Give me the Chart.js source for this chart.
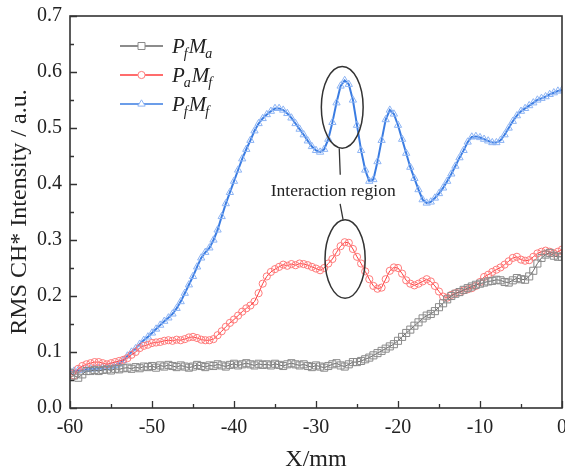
<!DOCTYPE html>
<html lang="en">
<head>
<meta charset="UTF-8">
<title>RMS CH* Intensity</title>
<style>
  html, body { margin: 0; padding: 0; background: #fff; overflow: hidden; }
  canvas { display: block; }
</style>
</head>
<body>
<canvas id="rmsChart" width="565" height="475"></canvas>
<script src="https://cdn.jsdelivr.net/npm/chart.js"></script>
<script>
// X positions (mm)
const xPos = [
  -60, -59.5, -59, -58.5, -58, -57.5, -57, -56.5, -56, -55.5,
  -55, -54.5, -54, -53.5, -53, -52.5, -52, -51.5, -51, -50.5,
  -50, -49.5, -49, -48.5, -48, -47.5, -47, -46.5, -46, -45.5,
  -45, -44.5, -44, -43.5, -43, -42.5, -42, -41.5, -41, -40.5,
  -40, -39.5, -39, -38.5, -38, -37.5, -37, -36.5, -36, -35.5,
  -35, -34.5, -34, -33.5, -33, -32.5, -32, -31.5, -31, -30.5,
  -30, -29.5, -29, -28.5, -28, -27.5, -27, -26.5, -26, -25.5,
  -25, -24.5, -24, -23.5, -23, -22.5, -22, -21.5, -21, -20.5,
  -20, -19.5, -19, -18.5, -18, -17.5, -17, -16.5, -16, -15.5,
  -15, -14.5, -14, -13.5, -13, -12.5, -12, -11.5, -11, -10.5,
  -10, -9.5, -9, -8.5, -8, -7.5, -7, -6.5, -6, -5.5,
  -5, -4.5, -4, -3.5, -3, -2.5, -2, -1.5, -1, -0.5, 0
];

// PfMa (black squares)
const pfMa = [
  0.063, 0.058, 0.054, 0.060, 0.066, 0.066, 0.068, 0.066, 0.068, 0.069,
  0.067, 0.070, 0.069, 0.071, 0.072, 0.070, 0.073, 0.071, 0.074, 0.073,
  0.075, 0.072, 0.076, 0.074, 0.077, 0.075, 0.073, 0.076, 0.074, 0.072,
  0.074, 0.077, 0.075, 0.073, 0.076, 0.075, 0.078, 0.076, 0.074, 0.077,
  0.079, 0.076, 0.078, 0.080, 0.078, 0.076, 0.079, 0.077, 0.078, 0.076,
  0.079, 0.077, 0.075, 0.078, 0.080, 0.078, 0.076, 0.078, 0.075, 0.073,
  0.076, 0.074, 0.072, 0.075, 0.078, 0.080, 0.076, 0.074, 0.078, 0.082,
  0.082, 0.084, 0.087, 0.090, 0.094, 0.098, 0.102, 0.106, 0.110, 0.114,
  0.120, 0.127, 0.134, 0.140, 0.147, 0.153, 0.160, 0.165, 0.168, 0.173,
  0.180, 0.187, 0.194, 0.200, 0.204, 0.207, 0.211, 0.214, 0.217, 0.220,
  0.222, 0.224, 0.226, 0.227, 0.229, 0.228, 0.225, 0.224, 0.228, 0.232,
  0.230, 0.229, 0.235, 0.245, 0.258, 0.268, 0.274, 0.277, 0.272, 0.270, 0.270
];

// PaMf (red circles)
const paMf = [
  0.062, 0.058, 0.070, 0.075, 0.078, 0.080, 0.082, 0.082, 0.080, 0.078,
  0.080, 0.082, 0.084, 0.086, 0.089, 0.095, 0.100, 0.107, 0.111, 0.113,
  0.116, 0.117, 0.118, 0.120, 0.121, 0.120, 0.122, 0.121, 0.123, 0.126,
  0.127, 0.125, 0.122, 0.121, 0.121, 0.123, 0.130, 0.137, 0.145, 0.152,
  0.158, 0.165, 0.172, 0.178, 0.183, 0.190, 0.205, 0.222, 0.235, 0.243,
  0.248, 0.252, 0.256, 0.254, 0.257, 0.255, 0.258, 0.257, 0.255, 0.252,
  0.249, 0.246, 0.250, 0.258, 0.266, 0.278, 0.289, 0.296, 0.295, 0.284,
  0.270, 0.258, 0.244, 0.230, 0.218, 0.213, 0.215, 0.230, 0.245, 0.251,
  0.250, 0.240, 0.228, 0.222, 0.219, 0.222, 0.226, 0.230, 0.226, 0.218,
  0.208, 0.199, 0.197, 0.202, 0.205, 0.207, 0.210, 0.212, 0.214, 0.218,
  0.225, 0.234, 0.238, 0.243, 0.247, 0.251, 0.256, 0.262, 0.268, 0.270,
  0.265, 0.263, 0.264, 0.270, 0.276, 0.279, 0.281, 0.279, 0.276, 0.279, 0.283
];

// PfMf (blue triangles)
const pfMf = [
  0.065, 0.066, 0.067, 0.068, 0.069, 0.070, 0.070, 0.071, 0.072, 0.073,
  0.074, 0.076, 0.079, 0.085, 0.093, 0.100, 0.106, 0.114, 0.121, 0.127,
  0.134, 0.141, 0.148, 0.155, 0.161, 0.168, 0.178, 0.190, 0.205, 0.220,
  0.235, 0.252, 0.268, 0.278, 0.286, 0.300, 0.318, 0.342, 0.365, 0.385,
  0.405, 0.425, 0.445, 0.462, 0.478, 0.495, 0.508, 0.517, 0.524, 0.530,
  0.535, 0.535, 0.532, 0.526, 0.518, 0.508, 0.498, 0.488, 0.477, 0.467,
  0.460, 0.457, 0.462, 0.480, 0.510, 0.545, 0.575, 0.585, 0.578, 0.550,
  0.505, 0.460, 0.425, 0.405, 0.408, 0.440, 0.478, 0.515, 0.532, 0.525,
  0.505, 0.480, 0.455, 0.430, 0.410, 0.390, 0.372, 0.366, 0.368, 0.375,
  0.383, 0.393, 0.405, 0.418, 0.432, 0.447, 0.460, 0.475, 0.484, 0.485,
  0.483, 0.480, 0.477, 0.474, 0.474, 0.478, 0.488, 0.500, 0.512, 0.522,
  0.530, 0.535, 0.540, 0.545, 0.550, 0.553, 0.556, 0.560, 0.563, 0.566, 0.568
];

// annotation anchors in data units
const ellipses = [
  { x: -26.8, y: 0.537, rx: 2.55, ry: 0.073 },
  { x: -26.45, y: 0.266, rx: 2.45, ry: 0.070 }
];
const noteText = 'Interaction region';
const noteAt = { x: -27.9, y: 0.386 };

// plot frame in canvas pixels
const plotBox = { left: 70, right: 562, top: 16, bottom: 408 };

const serif = "'Liberation Serif', 'Times New Roman', serif";
Chart.defaults.font.family = serif;
Chart.defaults.color = '#222';

function toXY(ys) {
  return xPos.map((x, i) => ({ x: x, y: ys[i] }));
}

const series = [
  { key: ['f', 'a'], data: pfMa, line: '#666666', mark: '#8a8a8a', style: 'rect', r: 5, w: 1 },
  { key: ['a', 'f'], data: paMf, line: '#ff3b3b', mark: '#ff7a7a', style: 'circle', r: 3.6, w: 1 },
  { key: ['f', 'f'], data: pfMf, line: '#3a7ce2', mark: '#8db4f4', style: 'triangle', r: 4.2, w: 2 }
];

// pin the chart area to the reference frame
const pinArea = {
  id: 'pinArea',
  afterLayout(chart) {
    const a = chart.chartArea;
    const { x, y } = chart.scales;
    Object.assign(a, plotBox);
    a.width = plotBox.right - plotBox.left;
    a.height = plotBox.bottom - plotBox.top;
    x.left = plotBox.left; x.right = plotBox.right; x.width = a.width;
    x.top = plotBox.bottom; x.height = x.bottom - x.top;
    y.top = plotBox.top; y.bottom = plotBox.bottom; y.height = a.height;
    y.right = plotBox.left; y.width = y.right - y.left;
    x.configure();
    y.configure();
  }
};

// frame, inward ticks, legend and annotations
const decor = {
  id: 'decor',
  afterDatasetsDraw(chart) {
    const { ctx, chartArea: a, scales: { x, y } } = chart;
    ctx.save();

    ctx.strokeStyle = '#333';
    ctx.lineWidth = 1.6;
    ctx.strokeRect(a.left, a.top, a.right - a.left, a.bottom - a.top);

    ctx.lineWidth = 1.3;
    ctx.beginPath();
    x.ticks.forEach(t => {
      const px = Math.round(x.getPixelForValue(t.value)) + 0.5;
      const len = t.label ? 7 : 4;
      ctx.moveTo(px, a.bottom);
      ctx.lineTo(px, a.bottom - len);
    });
    y.ticks.forEach(t => {
      const py = Math.round(y.getPixelForValue(t.value)) + 0.5;
      const len = t.label ? 7 : 4;
      ctx.moveTo(a.left, py);
      ctx.lineTo(a.left + len, py);
    });
    ctx.stroke();

    // legend
    series.forEach((s, i) => {
      const ly = 46 + i * 29;
      ctx.strokeStyle = s.line;
      ctx.lineWidth = 1.6;
      ctx.beginPath();
      ctx.moveTo(120, ly);
      ctx.lineTo(163, ly);
      ctx.stroke();
      ctx.fillStyle = '#fff';
      ctx.strokeStyle = s.mark;
      ctx.lineWidth = 1;
      ctx.beginPath();
      if (s.style === 'rect') ctx.rect(138, ly - 3.5, 7, 7);
      else if (s.style === 'circle') ctx.arc(141.5, ly, 3.6, 0, Math.PI * 2);
      else { ctx.moveTo(141.5, ly - 4.2); ctx.lineTo(145.2, ly + 2.1); ctx.lineTo(137.8, ly + 2.1); ctx.closePath(); }
      ctx.fill();
      ctx.stroke();

      ctx.fillStyle = '#222';
      ctx.textBaseline = 'alphabetic';
      ctx.textAlign = 'left';
      let tx = 172;
      const base = ly + 7;
      ctx.font = 'italic 21px ' + serif;
      ctx.fillText('P', tx, base);
      tx += ctx.measureText('P').width - 1;
      ctx.font = 'italic 14px ' + serif;
      ctx.fillText(s.key[0], tx, base + 5);
      tx += ctx.measureText(s.key[0]).width + 1;
      ctx.font = 'italic 21px ' + serif;
      ctx.fillText('M', tx, base);
      tx += ctx.measureText('M').width - 1;
      ctx.font = 'italic 14px ' + serif;
      ctx.fillText(s.key[1], tx, base + 5);
    });

    // annotation ellipses
    const boxes = ellipses.map(e => {
      const cx = x.getPixelForValue(e.x);
      const cy = y.getPixelForValue(e.y);
      const rx = Math.abs(x.getPixelForValue(e.x + e.rx) - cx);
      const ry = Math.abs(y.getPixelForValue(e.y + e.ry) - cy);
      return { cx, cy, rx, ry };
    });
    ctx.strokeStyle = '#333';
    ctx.lineWidth = 1.5;
    boxes.forEach(b => {
      ctx.beginPath();
      ctx.ellipse(b.cx, b.cy, b.rx, b.ry, 0, 0, Math.PI * 2);
      ctx.stroke();
    });

    const nx = x.getPixelForValue(noteAt.x);
    const ny = y.getPixelForValue(noteAt.y);
    ctx.font = '17.5px ' + serif;
    ctx.fillStyle = '#222';
    ctx.textAlign = 'center';
    ctx.textBaseline = 'middle';
    ctx.fillText(noteText, nx, ny);

    ctx.lineWidth = 1.3;
    ctx.beginPath();
    ctx.moveTo(boxes[0].cx - 3, boxes[0].cy + boxes[0].ry);
    ctx.lineTo(boxes[0].cx - 2, ny - 17);
    ctx.moveTo(boxes[1].cx - 5, ny + 12);
    ctx.lineTo(boxes[1].cx - 2, boxes[1].cy - boxes[1].ry);
    ctx.stroke();

    ctx.restore();
  }
};

new Chart(document.getElementById('rmsChart'), {
  type: 'line',
  data: {
    datasets: series.map(s => ({
      label: 'P' + s.key[0] + 'M' + s.key[1],
      data: toXY(s.data),
      borderColor: s.line,
      borderWidth: s.w,
      pointStyle: s.style,
      pointRadius: s.r,
      pointBorderColor: s.mark,
      pointBackgroundColor: 'rgba(255,255,255,0)',
      pointBorderWidth: 1,
      tension: 0,
      fill: false
    }))
  },
  options: {
    responsive: false,
    animation: false,
    layout: { padding: { top: 16, right: 0, left: 0, bottom: 0 } },
    plugins: {
      legend: { display: false },
      tooltip: { enabled: false }
    },
    scales: {
      x: {
        type: 'linear',
        min: -60,
        max: 0,
        afterFit: s => { s.height = 67; },
        grid: { display: false, drawTicks: false },
        border: { display: false },
        ticks: {
          stepSize: 5,
          autoSkip: false,
          maxRotation: 0,
          padding: 8,
          font: { size: 20 },
          callback: v => (v % 10 === 0 ? String(v) : '')
        },
        title: { display: true, text: 'X/mm', font: { size: 24 }, padding: { top: 0, bottom: 1 } }
      },
      y: {
        min: 0,
        max: 0.7,
        afterFit: s => { s.width = 70; },
        grid: { display: false, drawTicks: false },
        border: { display: false },
        ticks: {
          stepSize: 0.05,
          autoSkip: false,
          padding: 8,
          font: { size: 20 },
          callback: v => (Math.round(v * 100) % 10 === 0 ? v.toFixed(1) : '')
        },
        title: { display: true, text: 'RMS CH* Intensity / a.u.', font: { size: 24 }, padding: { top: 5, bottom: 0 } }
      }
    }
  },
  plugins: [pinArea, decor]
});
</script>
</body>
</html>
